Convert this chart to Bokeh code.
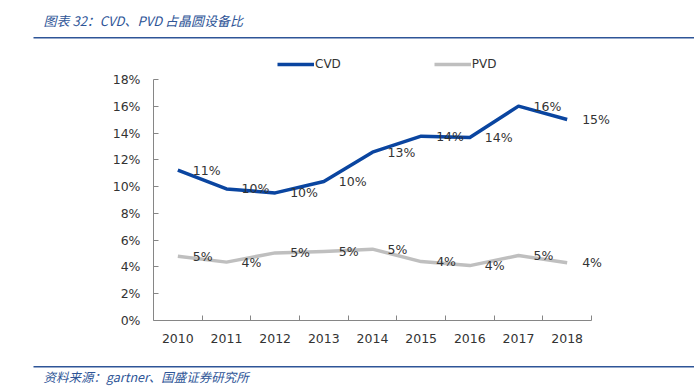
from bokeh.plotting import figure
from bokeh.layouts import column
from bokeh.models import (Range1d, FixedTicker, NumeralTickFormatter, LabelSet, Label,
                          ColumnDataSource, Legend, LegendItem, BoxAnnotation)
from bokeh.core.properties import value
from bokeh.embed import file_html
from bokeh.resources import INLINE

# ---- data ----
years = ["2010", "2011", "2012", "2013", "2014", "2015", "2016", "2017", "2018"]
cvd = [0.1124, 0.0983, 0.0953, 0.1038, 0.1257, 0.1377, 0.1367, 0.1601, 0.1501]
pvd = [0.0480, 0.0436, 0.0505, 0.0515, 0.0533, 0.0440, 0.0410, 0.0485, 0.0431]
y_ticks = [0, 0.02, 0.04, 0.06, 0.08, 0.10, 0.12, 0.14, 0.16, 0.18]
title_text = "图表 32：CVD、PVD 占晶圆设备比"
source_text = "资料来源：gartner、国盛证券研究所"

idx = list(range(len(years)))
CVD_COLOR = "#0A45A0"
PVD_COLOR = "#BFBFBF"
BLUE = "#2E5597"
TXT = "#333333"
FONT = "DejaVu Sans"
W = 694

# ---------- title strip ----------
TH = 44
pt = figure(width=W, height=TH, output_backend="svg", toolbar_location=None,
            x_range=Range1d(0, W), y_range=Range1d(0, TH),
            x_axis_location=None, y_axis_location=None, min_border=0, frame_align=False)
pt.outline_line_color = None
pt.grid.visible = False
pt.add_layout(Label(x=43, y=TH - 20, text=title_text, text_baseline="middle",
                    text_font="Noto Sans CJK SC", text_font_style="italic",
                    text_font_size="13px", text_color=BLUE))
pt.add_layout(BoxAnnotation(left=33, right=W, top=TH - 36.5, bottom=TH - 38,
                            fill_color=BLUE, fill_alpha=1, line_color=None))

# ---------- main chart ----------
MH = 312
LEFT = 153
frame_h = 276          # page y 44..320
px_per_unit = 241 / 0.18
cat_w = 438 / len(years)
frame_w = W - LEFT
p = figure(width=W, height=MH, output_backend="svg", toolbar_location=None,
           x_range=Range1d(-0.5, -0.5 + frame_w / cat_w),
           y_range=Range1d(0, frame_h / px_per_unit),
           min_border_left=LEFT, min_border_right=0, min_border_top=0,
           min_border_bottom=MH - frame_h, frame_align=False)
p.outline_line_color = None
p.xgrid.visible = False
p.ygrid.visible = False

ya = p.yaxis[0]
ya.bounds = (y_ticks[0], y_ticks[-1])
ya.ticker = FixedTicker(ticks=y_ticks)
ya.formatter = NumeralTickFormatter(format="0%")
ya.major_tick_in = 5
ya.major_tick_out = 0
ya.minor_tick_line_color = None
ya.axis_line_color = "#868686"
ya.major_tick_line_color = "#868686"
ya.major_label_text_font = FONT
ya.major_label_text_font_size = "12.5px"
ya.major_label_text_color = TXT
ya.major_label_standoff = 13

xa = p.xaxis[0]
xa.bounds = (-0.5, len(years) - 0.5)
xa.ticker = FixedTicker(ticks=idx, minor_ticks=[i + 0.5 for i in idx])
xa.major_label_overrides = {i: y for i, y in zip(idx, years)}
xa.major_tick_in = 0
xa.major_tick_out = 0
xa.minor_tick_in = 5
xa.minor_tick_out = 0
xa.axis_line_color = "#868686"
xa.minor_tick_line_color = "#868686"
xa.major_label_text_font = FONT
xa.major_label_text_font_size = "12.5px"
xa.major_label_text_color = TXT
xa.major_label_standoff = 13

r_cvd = p.line(idx, cvd, line_color=CVD_COLOR, line_width=3.5, line_join="round")
r_pvd = p.line(idx, pvd, line_color=PVD_COLOR, line_width=3.5, line_join="round")

for vals in (cvd, pvd):
    src = ColumnDataSource(dict(x=idx, y=vals, t=[f"{round(v * 100)}%" for v in vals]))
    p.add_layout(LabelSet(x="x", y="y", text="t", source=src, x_offset=15,
                          text_align="left", text_baseline="middle",
                          text_font=value(FONT), text_font_size=value("12.5px"),
                          text_color=TXT))

legend = Legend(items=[LegendItem(label="CVD", renderers=[r_cvd]),
                       LegendItem(label="PVD", renderers=[r_pvd])],
                location=(124, 246), orientation="horizontal",
                glyph_width=37, glyph_height=20, label_standoff=1, spacing=93,
                padding=0, margin=0, border_line_color=None, background_fill_alpha=0,
                label_text_font=FONT, label_text_font_size="12px", label_text_color=TXT)
p.add_layout(legend)

# ---------- source strip ----------
FH = 31
pf = figure(width=W, height=FH, output_backend="svg", toolbar_location=None,
            x_range=Range1d(0, W), y_range=Range1d(0, FH),
            x_axis_location=None, y_axis_location=None, min_border=0, frame_align=False)
pf.outline_line_color = None
pf.grid.visible = False
pf.add_layout(BoxAnnotation(left=33, right=W, top=FH - 9.5, bottom=FH - 11,
                            fill_color=BLUE, fill_alpha=1, line_color=None))
pf.add_layout(Label(x=43, y=FH - 20, text=source_text, text_baseline="middle",
                    text_font="Noto Sans CJK SC", text_font_style="italic",
                    text_font_size="12.5px", text_color=BLUE))

layout = column(pt, p, pf, spacing=0)
open("out.html", "w").write(file_html(layout, INLINE))
